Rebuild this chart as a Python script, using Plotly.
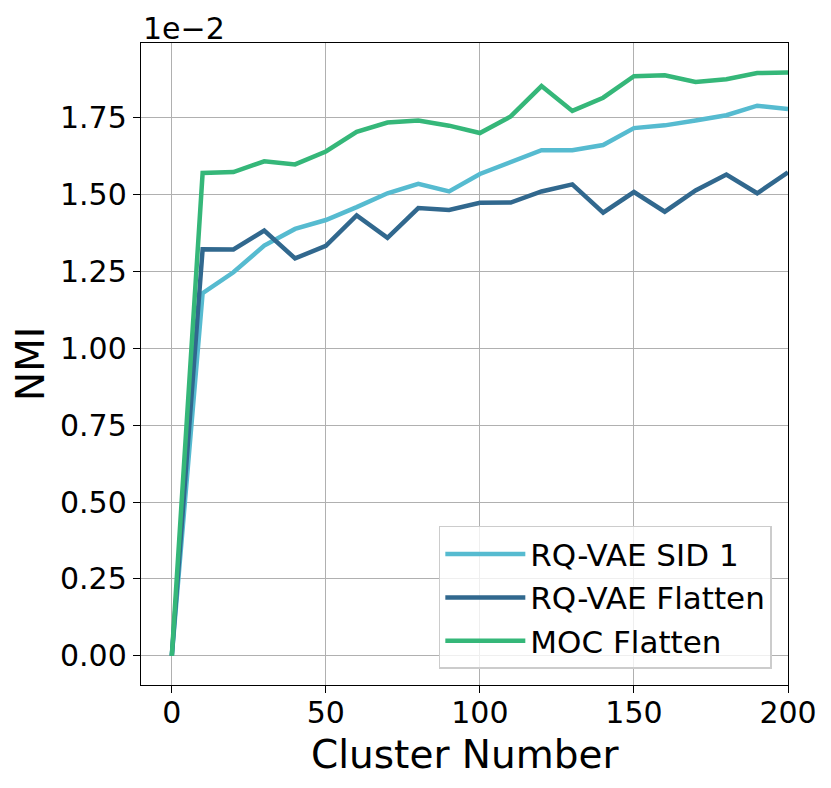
import plotly.graph_objects as go

cluster_numbers = [0, 10, 20, 30, 40, 50, 60, 70, 80, 90, 100, 110, 120, 130, 140, 150, 160, 170, 180, 190, 200]

# NMI values in units of 1e-2
rqvae_sid1 = [0.0, 1.180, 1.248, 1.335, 1.389, 1.418, 1.460, 1.505, 1.536, 1.511, 1.568,
              1.608, 1.645, 1.645, 1.662, 1.717, 1.726, 1.742, 1.759, 1.790, 1.779]
rqvae_flatten = [0.0, 1.323, 1.322, 1.384, 1.293, 1.334, 1.433, 1.360, 1.457, 1.451, 1.474,
                 1.475, 1.511, 1.534, 1.442, 1.509, 1.445, 1.514, 1.566, 1.505, 1.573]
moc_flatten = [0.0, 1.571, 1.574, 1.609, 1.599, 1.641, 1.705, 1.735, 1.742, 1.725, 1.701,
               1.755, 1.854, 1.773, 1.816, 1.886, 1.889, 1.867, 1.876, 1.896, 1.898]

series_names = ["RQ-VAE SID 1", "RQ-VAE Flatten", "MOC Flatten"]
series_values = [rqvae_sid1, rqvae_flatten, moc_flatten]
series_colors = ["#56bbd0", "#31688e", "#35b779"]

x_ticks = [0, 50, 100, 150, 200]
y_ticks = [0.0, 0.25, 0.5, 0.75, 1.0, 1.25, 1.5, 1.75]
y_tick_labels = ["%.2f" % v for v in y_ticks]

x_title = "Cluster Number"
y_title = "NMI"
exponent_label = "1e\u22122"

FONT = "DejaVu Sans"

fig = go.Figure()
for name, vals, col in zip(series_names, series_values, series_colors):
    fig.add_trace(go.Scatter(x=cluster_numbers, y=vals, mode="lines", name=name,
                             line=dict(color=col, width=4.5)))

axis_common = dict(
    showgrid=True, gridcolor="#b0b0b0", gridwidth=1.4,
    showline=True, linecolor="black", linewidth=1.4, mirror=True,
    ticks="outside", ticklen=7, tickwidth=1.4, tickcolor="black",
    zeroline=False,
    tickfont=dict(family=FONT, size=30, color="black"),
)

fig.update_xaxes(range=[-10, 200], tickvals=x_ticks, ticklabelstandoff=-6, **axis_common)
fig.update_yaxes(range=[-0.095, 1.994], tickvals=y_ticks, ticktext=y_tick_labels, **axis_common)

fig.add_annotation(text=exponent_label, xref="paper", yref="paper", x=0, y=1,
                   xanchor="left", yanchor="bottom", showarrow=False,
                   font=dict(family=FONT, size=30, color="black"), yshift=-5)
fig.add_annotation(text=x_title, xref="paper", yref="paper", x=0.5, y=-0.108,
                   xanchor="center", yanchor="middle", showarrow=False,
                   font=dict(family=FONT, size=39, color="black"))
fig.add_annotation(text=y_title, xref="paper", yref="paper", x=-0.1716, y=0.5,
                   xanchor="center", yanchor="middle", showarrow=False, textangle=-90,
                   font=dict(family=FONT, size=39, color="black"))

fig.update_layout(
    width=831, height=788,
    margin=dict(l=141, r=43, t=43, b=103),
    paper_bgcolor="white", plot_bgcolor="white",
    showlegend=True,
    legend=dict(x=0.975, y=0.025, xanchor="right", yanchor="bottom",
                bgcolor="rgba(255,255,255,0.8)", bordercolor="#cccccc", borderwidth=1.5,
                font=dict(family=FONT, size=31, color="black"), itemwidth=80),
)

fig.write_html("out.html", config={"displayModeBar": False},
               post_script="document.body.style.margin='0';document.body.style.overflow='hidden';")
